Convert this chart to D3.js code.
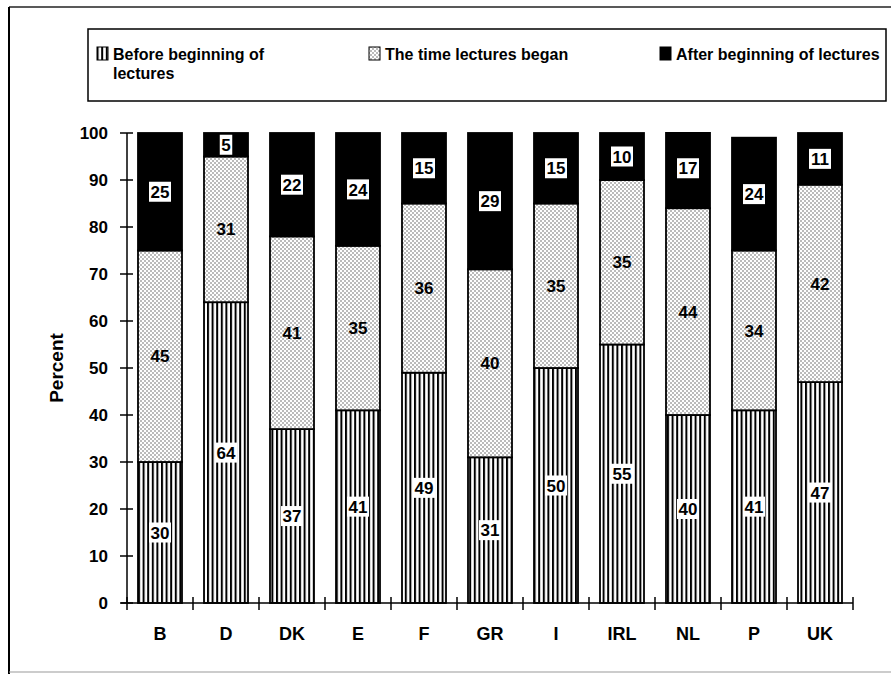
<!DOCTYPE html>
<html>
<head>
<meta charset="utf-8">
<script src="https://cdn.jsdelivr.net/npm/d3@7"></script>
<style>
  html, body { margin: 0; padding: 0; background: #fff; }
  svg { display: block; }
  text { font-family: "Liberation Sans", Arial, sans-serif; font-weight: bold; fill: #000; }
</style>
</head>
<body>
<svg id="chart" width="891" height="674"></svg>
<script>
// Countries (x categories)
const countries = ["B", "D", "DK", "E", "F", "GR", "I", "IRL", "NL", "P", "UK"];

// Share of respondents, in percent, per arrival time
const beforeLectures = [30, 64, 37, 41, 49, 31, 50, 55, 40, 41, 47];
const timeLecturesBegan = [45, 31, 41, 35, 36, 40, 35, 35, 44, 34, 42];
const afterLectures = [25, 5, 22, 24, 15, 29, 15, 10, 17, 24, 11];

const seriesNames = ["Before beginning of lectures", "The time lectures began", "After beginning of lectures"];
const yTicks = [0, 10, 20, 30, 40, 50, 60, 70, 80, 90, 100];

const svg = d3.select("#chart");

// Fill patterns: vertical hatching, fine stipple, solid black
const defs = svg.append("defs");
const stripes = defs.append("pattern")
  .attr("id", "stripes").attr("patternUnits", "userSpaceOnUse")
  .attr("width", 4.6).attr("height", 6);
stripes.append("rect").attr("width", 4.6).attr("height", 6).attr("fill", "#fff");
stripes.append("rect").attr("x", 0).attr("width", 2).attr("height", 6).attr("fill", "#000");

const dots = defs.append("pattern")
  .attr("id", "dots").attr("patternUnits", "userSpaceOnUse")
  .attr("width", 4).attr("height", 4);
dots.append("rect").attr("width", 4).attr("height", 4).attr("fill", "#fff");
dots.append("circle").attr("cx", 1).attr("cy", 1).attr("r", 0.7).attr("fill", "#444");
dots.append("circle").attr("cx", 3).attr("cy", 3).attr("r", 0.7).attr("fill", "#444");

const fills = ["url(#stripes)", "url(#dots)", "#000"];
const labelBoxed = [true, false, true];

// Outer frame
svg.append("line").attr("x1", 9).attr("y1", 7).attr("x2", 891).attr("y2", 7)
  .attr("stroke", "#222").attr("stroke-width", 1.5);
svg.append("line").attr("x1", 9).attr("y1", 7).attr("x2", 9).attr("y2", 674)
  .attr("stroke", "#000").attr("stroke-width", 2);
svg.append("line").attr("x1", 9).attr("y1", 672).attr("x2", 891).attr("y2", 672)
  .attr("stroke", "#999").attr("stroke-width", 1.2);

// Scales
const x = d3.scaleBand().domain(countries).range([127, 853])
  .paddingInner(1 / 3).paddingOuter(1 / 6);
const y = d3.scaleLinear().domain([0, 100]).range([603, 133]);

// Stack the three series
const rows = countries.map((c, i) => ({
  country: c,
  [seriesNames[0]]: beforeLectures[i],
  [seriesNames[1]]: timeLecturesBegan[i],
  [seriesNames[2]]: afterLectures[i]
}));
const stacked = d3.stack().keys(seriesNames)(rows);

// Plot area clipped at the 100% line
defs.append("clipPath").attr("id", "plotClip")
  .append("rect").attr("x", 127).attr("y", y(100) - 1).attr("width", 730).attr("height", y(0) - y(100) + 2);

const bars = svg.append("g").attr("clip-path", "url(#plotClip)");
stacked.forEach((layer, si) => {
  bars.append("g").selectAll("rect").data(layer).join("rect")
    .attr("x", d => x(d.data.country))
    .attr("y", d => y(d[1]))
    .attr("width", x.bandwidth())
    .attr("height", d => y(d[0]) - y(d[1]))
    .attr("fill", fills[si])
    .attr("stroke", "#000").attr("stroke-width", 1.8);
});

// Value labels, centred in each segment
stacked.forEach((layer, si) => {
  const g = svg.append("g");
  layer.forEach(d => {
    const v = d[1] - d[0];
    const cx = x(d.data.country) + x.bandwidth() / 2;
    const cy = y(Math.min(100, (d[0] + d[1]) / 2));
    const t = String(v);
    const w = t.length * 9.5 + 3;
    if (labelBoxed[si]) {
      g.append("rect").attr("x", cx - w / 2).attr("y", cy - 10).attr("width", w).attr("height", 20)
        .attr("fill", "#fff");
    }
    g.append("text").attr("x", cx).attr("y", cy).attr("dy", "0.36em")
      .attr("text-anchor", "middle").attr("font-size", 17).text(t);
  });
});

// Y axis
const yAxis = svg.append("g");
yAxis.append("line").attr("x1", 127).attr("x2", 127).attr("y1", y(100)).attr("y2", y(0))
  .attr("stroke", "#000").attr("stroke-width", 1.5);
yAxis.selectAll("line.tick").data(yTicks).join("line").attr("class", "tick")
  .attr("x1", 120).attr("x2", 133).attr("y1", d => y(d)).attr("y2", d => y(d))
  .attr("stroke", "#000").attr("stroke-width", 1.5);
yAxis.selectAll("text").data(yTicks).join("text")
  .attr("x", 108).attr("y", d => y(d)).attr("dy", "0.36em")
  .attr("text-anchor", "end").attr("font-size", 17).text(d => d);

svg.append("text")
  .attr("transform", `translate(63,${(y(0) + y(100)) / 2}) rotate(-90)`)
  .attr("text-anchor", "middle").attr("font-size", 19).text("Percent");

// X axis
const xAxis = svg.append("g");
const step = x.step();
const boundaries = d3.range(countries.length + 1).map(i => 127 + i * step);
xAxis.append("line").attr("x1", 121).attr("x2", 853).attr("y1", y(0)).attr("y2", y(0))
  .attr("stroke", "#000").attr("stroke-width", 1.5);
xAxis.selectAll("line.tick").data(boundaries).join("line").attr("class", "tick")
  .attr("x1", d => d).attr("x2", d => d).attr("y1", y(0) - 6).attr("y2", y(0) + 7)
  .attr("stroke", "#000").attr("stroke-width", 1.5);
xAxis.selectAll("text").data(countries).join("text")
  .attr("x", d => x(d) + x.bandwidth() / 2).attr("y", 640)
  .attr("text-anchor", "middle").attr("font-size", 18).text(d => d);

// Legend
const legend = svg.append("g");
legend.append("rect").attr("x", 88).attr("y", 29).attr("width", 798).attr("height", 72)
  .attr("fill", "#fff").attr("stroke", "#000").attr("stroke-width", 1.5);
const legendItems = [
  { x: 97, lines: ["Before beginning of", "lectures"] },
  { x: 369, lines: ["The time lectures began"] },
  { x: 660, lines: ["After beginning of lectures"] }
];
legendItems.forEach((it, i) => {
  legend.append("rect").attr("x", it.x).attr("y", 47).attr("width", 11).attr("height", 13)
    .attr("fill", fills[i]).attr("stroke", "#000").attr("stroke-width", 1);
  it.lines.forEach((ln, k) => {
    legend.append("text").attr("x", it.x + 16).attr("y", 60 + k * 19)
      .attr("font-size", 16).text(ln);
  });
});
</script>
</body>
</html>
